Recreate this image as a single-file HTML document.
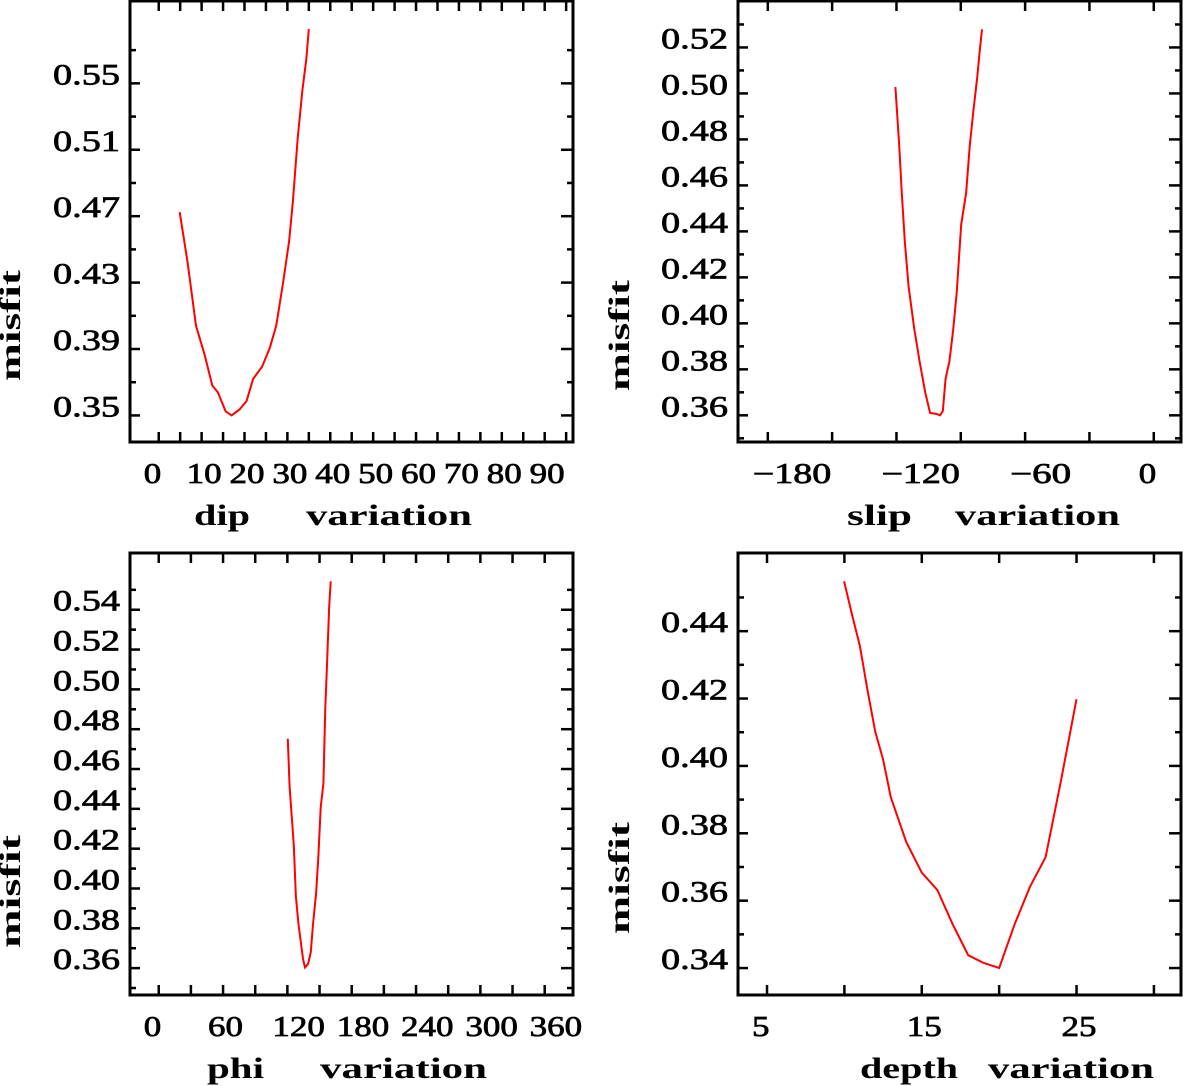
<!DOCTYPE html>
<html><head><meta charset="utf-8"><title>misfit variation</title>
<style>
html,body{margin:0;padding:0;background:#fff;}
svg{display:block;}
text{font-family:"Liberation Serif",serif;fill:#000;}
text.tl{stroke:#000;stroke-width:0.7;}
</style></head>
<body>
<svg id="chart" width="1183" height="1086" viewBox="0 0 1183 1086" xmlns="http://www.w3.org/2000/svg"></svg>
<script>
// ---- data ----
const dipX = [4.9,6.7,8.7,10.7,12.5,13.8,15.6,17,18.8,20.5,22,24.1,25.9,27.4,29,30.4,31.3,32.4,33.5,34.4,35];
const dipY = [0.4724,0.4425,0.404,0.3866,0.368,0.3639,0.3525,0.35,0.3535,0.3587,0.372,0.3794,0.3907,0.404,0.43,0.4549,0.4797,0.517,0.5459,0.5645,0.5827];
const slipX = [-120.5,-118.7,-117.5,-116.1,-114.4,-111.8,-109.2,-106.6,-104.3,-101.4,-99.7,-98.4,-97.1,-95.3,-93.6,-91.9,-89.8,-87.5,-85.8,-84.1,-82.3,-81.1,-80.1];
const slipY = [0.5028,0.4775,0.4566,0.4357,0.4163,0.3984,0.3834,0.37,0.361,0.3606,0.36,0.3618,0.376,0.3834,0.3969,0.4133,0.4431,0.4566,0.4775,0.4924,0.5073,0.5192,0.5279];
const phiX = [120.4,122.1,123.9,126,127.9,130.4,132.9,134.6,136.4,139.3,141.8,143.9,146.8,148.9,151.1,153.6,155.4,157.1,158.9,160.4];
const phiY = [0.4752,0.451,0.4372,0.4217,0.3958,0.382,0.3716,0.3647,0.3603,0.3621,0.3681,0.382,0.3975,0.4165,0.4407,0.4527,0.4907,0.5149,0.5408,0.5543];
const depthX = [9.98,10.5,11,11.5,12,12.5,13,14,15,16,17,18,19,20,21,22,23,24,25];
const depthY = [0.4548,0.4448,0.4356,0.4223,0.4101,0.4019,0.3907,0.3774,0.3683,0.3632,0.353,0.3438,0.3415,0.34,0.353,0.3642,0.3729,0.3958,0.4198];

const dipXTicks = [0,10,20,30,40,50,60,70,80,90];
const dipXMinor = [5,15,25,35,45,55,65,75,85,95];
const dipYTicks = [0.35,0.39,0.43,0.47,0.51,0.55];
const dipYMinor = [0.37,0.41,0.45,0.49,0.53,0.57];
const slipXTicks = [-180,-120,-60,0];
const slipXMinor = [-150,-90,-30];
const slipYTicks = [0.36,0.38,0.40,0.42,0.44,0.46,0.48,0.50,0.52];
const slipYMinor = [0.35,0.37,0.39,0.41,0.43,0.45,0.47,0.49,0.51,0.53];
const phiXTicks = [0,60,120,180,240,300,360];
const phiXMinor = [30,90,150,210,270,330];
const phiYTicks = [0.36,0.38,0.40,0.42,0.44,0.46,0.48,0.50,0.52,0.54];
const phiYMinor = [0.35,0.37,0.39,0.41,0.43,0.45,0.47,0.49,0.51,0.53,0.55];
const depthXTicks = [5,15,25];
const depthXMinor = [10,20,30];
const depthYTicks = [0.34,0.36,0.38,0.40,0.42,0.44];
const depthYMinor = [0.35,0.37,0.39,0.41,0.43,0.45];

const NS = "http://www.w3.org/2000/svg";
const svg = document.getElementById("chart");
function mk(tag, attrs, parent){
  const e = document.createElementNS(NS, tag);
  for (const k in attrs) e.setAttribute(k, attrs[k]);
  (parent||svg).appendChild(e);
  return e;
}
function fmtY(v){ return v.toFixed(2); }
function fmtX(v){ return v<0 ? "\u2212"+Math.abs(v) : String(v); }

function panel(p){
  const g = mk("g", {});
  
  
  const xs = v => p.L + (v - p.xd[0])/(p.xd[1]-p.xd[0])*(p.R-p.L);
  const ys = v => p.B - (v - p.yd[0])/(p.yd[1]-p.yd[0])*(p.B-p.T);
  const box = mk("rect", {x:p.L, y:p.T, width:p.R-p.L, height:p.B-p.T, fill:"none", stroke:"#000", "stroke-width":3}, g);
  
  
  p.xt.concat(p.xm).forEach(v=>{
    const x = xs(v);
    const t1 = mk("line",{x1:x,y1:p.B,x2:x,y2:p.B-10,stroke:"#000","stroke-width":2.5},g);
    
    
    const t2 = mk("line",{x1:x,y1:p.T,x2:x,y2:p.T+10,stroke:"#000","stroke-width":2.5},g);
    
    
  });
  p.xt.forEach(v=>{
    const s = fmtX(v);
    const len = s.replace("\u2212","").length*17.5 + (s.indexOf("\u2212")>=0?26:0);
    const t = mk("text",{x:xs(v)-15,y:p.B+41,"font-size":28,"class":"tl",textLength:len,lengthAdjust:"spacingAndGlyphs"},g);
    t.textContent = s;
    
    
  });
  p.yt.forEach(v=>{
    const y = ys(v);
    const a = mk("line",{x1:p.R,y1:y,x2:p.R-12,y2:y,stroke:"#000","stroke-width":2.5},g);
    
    
    const b = mk("line",{x1:p.L,y1:y,x2:p.L+10,y2:y,stroke:"#000","stroke-width":2.5},g);
    
    
    const t = mk("text",{x:p.L-10,y:y+1,"font-size":30,"class":"tl","text-anchor":"end",textLength:67,lengthAdjust:"spacingAndGlyphs"},g);
    t.textContent = fmtY(v);
    
    
  });
  p.ym.forEach(v=>{
    const y = ys(v);
    if (y < p.T+2 || y > p.B-2) return;
    const a = mk("line",{x1:p.R,y1:y,x2:p.R-6,y2:y,stroke:"#000","stroke-width":2.5},g);
    
    
    const b = mk("line",{x1:p.L,y1:y,x2:p.L+6,y2:y,stroke:"#000","stroke-width":2.5},g);
    
    
  });
  const pts = p.dx.map((v,i)=> xs(v).toFixed(1)+","+ys(p.dy[i]).toFixed(1)).join(" ");
  const line = mk("polyline",{points:pts,fill:"none",stroke:"#ff0000","stroke-width":2},g);
  
  
  const w1 = mk("text",{x:p.t1[0],y:p.ty,"font-size":30,"font-weight":"bold",textLength:p.t1[1]-p.t1[0],lengthAdjust:"spacingAndGlyphs"},g);
  w1.textContent = p.name;
  
  
  const w2 = mk("text",{x:p.t2[0],y:p.ty,"font-size":30,"font-weight":"bold",textLength:p.t2[1]-p.t2[0],lengthAdjust:"spacingAndGlyphs"},g);
  w2.textContent = "variation";
  
  
  const yt = mk("text",{x:0,y:0,"font-size":30,"font-weight":"bold",textLength:p.my[1]-p.my[0],lengthAdjust:"spacingAndGlyphs",
    transform:"translate("+p.mx+","+p.my[1]+") rotate(-90)"},g);
  yt.textContent = "misfit";
  
  
}

panel({name:"dip", L:130,R:573,T:1,B:442, xd:[-6.7,96.6], yd:[0.334,0.5996],
  xt:dipXTicks, xm:dipXMinor, yt:dipYTicks, ym:dipYMinor, dx:dipX, dy:dipY,
  t1:[194,250], t2:[306,472], ty:525, mx:20, my:[270,381]});
panel({name:"slip", L:738,R:1181,T:1,B:442, xd:[-193.9,12.7], yd:[0.3484,0.5402],
  xt:slipXTicks, xm:slipXMinor, yt:slipYTicks, ym:slipYMinor, dx:slipX, dy:slipY,
  t1:[847,912], t2:[955,1120], ty:525, mx:629, my:[280,391]});
panel({name:"phi", L:130,R:573,T:553,B:995, xd:[-26.8,386.4], yd:[0.3465,0.5685],
  xt:phiXTicks, xm:phiXMinor, yt:phiYTicks, ym:phiYMinor, dx:phiX, dy:phiY,
  t1:[207,264], t2:[320,487], ty:1078, mx:20, my:[835,948]});
panel({name:"depth", L:738,R:1181,T:553,B:995, xd:[3.125,31.75], yd:[0.332,0.4632],
  xt:depthXTicks, xm:depthXMinor, yt:depthYTicks, ym:depthYMinor, dx:depthX, dy:depthY,
  t1:[860,958], t2:[988,1154], ty:1078, mx:629, my:[822,934]});
</script>
</body></html>
